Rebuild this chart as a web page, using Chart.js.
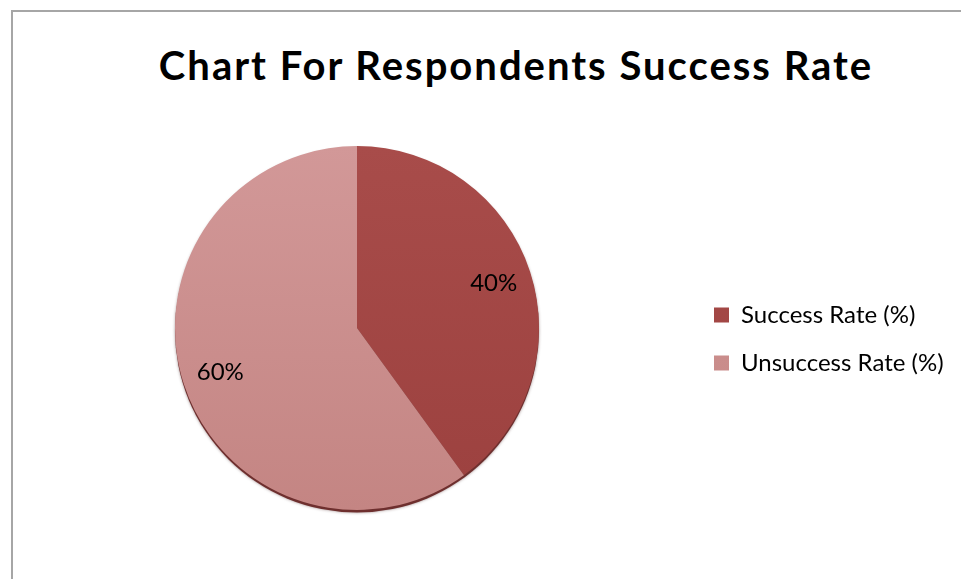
<!DOCTYPE html>
<html>
<head>
<meta charset="utf-8">
<title>Chart For Respondents Success Rate</title>
<script src="https://cdn.jsdelivr.net/npm/chart.js@4.4.1/dist/chart.umd.min.js"></script>
<style>
  html, body { margin: 0; padding: 0; background: #fff; overflow: hidden; }
  #frame {
    position: absolute; left: 11px; top: 10px; right: 0; bottom: 0;
    border-top: 2px solid #a6a6a6; border-left: 2px solid #a6a6a6;
  }
  #title {
    position: absolute; left: 516px; top: 45px; transform: translateX(-50%);
    white-space: nowrap; font: bold 40px Lato, sans-serif; letter-spacing: 2px;
    line-height: 1; color: #000;
  }
  #pie { position: absolute; left: 0; top: 0; }
</style>
</head>
<body>
<div id="frame"></div>
<div id="title">Chart For Respondents Success Rate</div>
<canvas id="pie" width="961" height="579"></canvas>
<script>
var categories = ['Success Rate (%)', 'Unsuccess Rate (%)'];
var rates = [40, 60];

// top / bottom shade of each slice
var shadeTop = ['#a84c4a', '#d29898'];
var shadeBottom = ['#9c413f', '#c48583'];

var legendSize = 24;
var legendPad = 24;
var legendBox = 15;

// widest legend entry decides how much room the legend takes on the right
var probe = document.createElement('canvas').getContext('2d');
probe.font = legendSize + 'px Lato';
var widest = Math.max.apply(null, categories.map(function (c) { return probe.measureText(c).width; }));
var legendWidth = legendPad + legendBox + legendSize / 2 + widest + 10;
var rightPad = 961 - 690 - legendWidth;

function sliceFill(context) {
    var i = context.dataIndex;
    var area = context.chart.chartArea;
    if (!area) return shadeTop[i];
    var g = context.chart.ctx.createLinearGradient(0, area.top, 0, area.bottom);
    g.addColorStop(0, shadeTop[i]);
    g.addColorStop(1, shadeBottom[i]);
    return g;
}

// dark rim peeking out under the bottom edge of the pie
var pieRim = {
    id: 'pieRim',
    beforeDatasetsDraw: function (chart) {
        var arc = chart.getDatasetMeta(0).data[0];
        if (!arc) return;
        var p = arc.getProps(['x', 'y', 'outerRadius'], true);
        var ctx = chart.ctx;
        ctx.save();
        ctx.shadowColor = 'rgba(60, 20, 20, 0.5)';
        ctx.shadowBlur = 3;
        ctx.beginPath();
        ctx.arc(p.x, p.y + 2.5, p.outerRadius, 0, Math.PI * 2);
        ctx.fillStyle = '#6e2f2e';
        ctx.fill();
        ctx.restore();
    }
};

// percentage text inside each slice
var sliceLabels = {
    id: 'sliceLabels',
    afterDatasetsDraw: function (chart) {
        var ctx = chart.ctx;
        var meta = chart.getDatasetMeta(0);
        ctx.save();
        ctx.font = '24px Lato';
        ctx.fillStyle = '#000';
        ctx.textAlign = 'center';
        ctx.textBaseline = 'middle';
        meta.data.forEach(function (arc, i) {
            var p = arc.getProps(['x', 'y', 'startAngle', 'endAngle', 'outerRadius'], true);
            var mid = (p.startAngle + p.endAngle) / 2;
            var r = p.outerRadius * 0.79;
            ctx.fillText(rates[i] + '%', p.x + Math.cos(mid) * r, p.y + Math.sin(mid) * r);
        });
        ctx.restore();
    }
};

var ctx = document.getElementById('pie').getContext('2d');
var pieChart = new Chart(ctx, {
    type: 'pie',
    data: {
        labels: categories,
        datasets: [{
            data: rates,
            backgroundColor: sliceFill,
            borderWidth: 0
        }]
    },
    options: {
        responsive: false,
        animation: false,
        devicePixelRatio: 1,
        layout: {
            padding: { left: 24, right: rightPad, top: 146, bottom: 69 }
        },
        plugins: {
            legend: {
                position: 'right',
                align: 'center',
                // empty title only pushes the two entries down a little
                title: { display: true, text: '', font: { size: 22, lineHeight: 1 } },
                labels: {
                    boxWidth: legendBox,
                    boxHeight: legendBox,
                    padding: legendPad,
                    color: '#000',
                    font: { family: 'Lato', size: legendSize }
                }
            },
            tooltip: { enabled: false }
        }
    },
    plugins: [pieRim, sliceLabels]
});
</script>
</body>
</html>
